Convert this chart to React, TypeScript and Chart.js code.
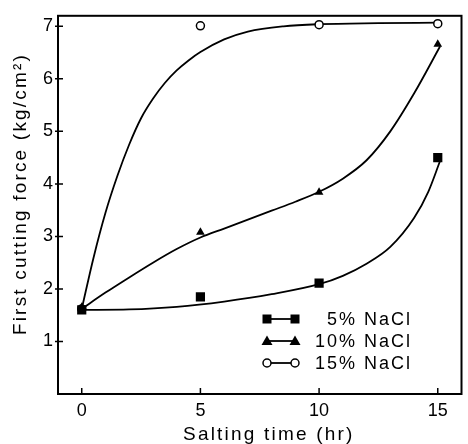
import React, { useEffect, useRef } from 'react';
import { Chart, registerables } from 'chart.js';

Chart.register(...registerables);

// Measured points
const timesHr = [0, 5, 10, 15];
const nacl5 = [1.6, 1.85, 2.11, 4.5];
const nacl10 = [1.65, 3.08, 3.84, 6.66];
const nacl15 = [1.62, 7.01, 7.03, 7.05];

// Fitted curves
const curve5X = [0, 2, 4, 6, 8, 10, 11, 12, 13, 14, 14.6, 15.1];
const curve5Y = [1.6, 1.61, 1.66, 1.76, 1.9, 2.09, 2.25, 2.48, 2.8, 3.35, 3.85, 4.44];
const curve10X = [0, 1, 2, 3, 4, 5, 6, 7, 8, 9, 10, 11, 12, 13, 14, 15.1];
const curve10Y = [1.62, 1.93, 2.22, 2.5, 2.76, 2.98, 3.15, 3.32, 3.49, 3.66, 3.85, 4.1, 4.45, 5.0, 5.72, 6.62];
const curve15X = [0, 0.5, 1, 1.5, 2, 2.5, 3, 3.5, 4, 4.5, 5, 6, 7, 8.5, 10, 12.5, 15];
const curve15Y = [1.62, 2.6, 3.45, 4.15, 4.75, 5.25, 5.62, 5.92, 6.16, 6.35, 6.51, 6.75, 6.9, 7.0, 7.04, 7.06, 7.07];

const seriesLabels = ['5% NaCl', '10% NaCl', '15% NaCl'];
const xTicks = [0, 5, 10, 15];
const yTicks = [1, 2, 3, 4, 5, 6, 7];
const xTitle = 'Salting time (hr)';
const yTitle = 'First cutting force (kg/cm²)';

const toXY = (xs: number[], ys: number[]) => xs.map((x, i) => ({ x, y: ys[i] }));

const FONT = '"Liberation Sans", Arial, sans-serif';

function drawMarker(ctx: CanvasRenderingContext2D, kind: number, x: number, y: number) {
  ctx.beginPath();
  if (kind === 0) {
    ctx.rect(x - 4.5, y - 4.5, 9, 9);
    ctx.fillStyle = '#000';
    ctx.fill();
  } else if (kind === 1) {
    ctx.moveTo(x, y - 5.5);
    ctx.lineTo(x + 5.5, y + 4);
    ctx.lineTo(x - 5.5, y + 4);
    ctx.closePath();
    ctx.fillStyle = '#000';
    ctx.fill();
  } else {
    ctx.arc(x, y, 4, 0, Math.PI * 2);
    ctx.fillStyle = '#fff';
    ctx.fill();
    ctx.lineWidth = 1.5;
    ctx.strokeStyle = '#000';
    ctx.stroke();
  }
}

const decorPlugin = {
  id: 'decor',
  afterDraw(chart: any) {
    const { ctx, chartArea: a, scales } = chart;
    ctx.save();
    ctx.strokeStyle = '#000';
    ctx.lineWidth = 2;
    ctx.strokeRect(a.left, a.top, a.right - a.left, a.bottom - a.top);

    ctx.lineWidth = 1.5;
    ctx.beginPath();
    xTicks.forEach((v) => {
      const px = scales.x.getPixelForValue(v);
      ctx.moveTo(px, a.bottom);
      ctx.lineTo(px, a.bottom - 6);
    });
    yTicks.forEach((v) => {
      const py = scales.y.getPixelForValue(v);
      ctx.moveTo(a.left - 3, py);
      ctx.lineTo(a.left + 5, py);
    });
    ctx.stroke();

    ctx.fillStyle = '#000';
    ctx.font = `19px ${FONT}`;
    (ctx as any).letterSpacing = '2.2px';
    ctx.textAlign = 'center';
    ctx.textBaseline = 'alphabetic';
    ctx.fillText(xTitle, (a.left + a.right) / 2 + 9, 440);

    ctx.save();
    ctx.translate(21, 194);
    ctx.rotate(-Math.PI / 2);
    ctx.textBaseline = 'middle';
    ctx.fillText(yTitle, 0, 0);
    ctx.restore();

    // legend
    const rows = [319, 341, 363];
    ctx.font = `18px ${FONT}`;
    (ctx as any).letterSpacing = '2px';
    ctx.textAlign = 'right';
    ctx.textBaseline = 'middle';
    seriesLabels.forEach((lab, i) => {
      const y = rows[i];
      ctx.beginPath();
      ctx.strokeStyle = '#000';
      ctx.lineWidth = 1.8;
      ctx.moveTo(266, y);
      ctx.lineTo(296, y);
      ctx.stroke();
      drawMarker(ctx, i, 267, y);
      drawMarker(ctx, i, 295, y);
      ctx.fillStyle = '#000';
      ctx.fillText(lab, 412, y + 1);
    });
    ctx.restore();
  },
};

export default function App() {
  const ref = useRef<HTMLCanvasElement>(null);
  useEffect(() => {
    if (!ref.current) return;
    const curveStyle = {
      showLine: true,
      pointRadius: 0,
      borderColor: '#000',
      borderWidth: 1.8,
      cubicInterpolationMode: 'monotone' as const,
      fill: false,
    };
    const chart = new Chart(ref.current, {
      type: 'scatter',
      data: {
        datasets: [
          {
            label: seriesLabels[0],
            data: toXY(timesHr, nacl5),
            pointStyle: 'rect',
            pointRadius: 6.5,
            backgroundColor: '#000',
            borderColor: '#000',
            borderWidth: 0,
          },
          {
            label: seriesLabels[1],
            data: toXY(timesHr, nacl10),
            pointStyle: 'triangle',
            pointRadius: 5,
            backgroundColor: '#000',
            borderColor: '#000',
            borderWidth: 0,
          },
          {
            label: seriesLabels[2],
            data: toXY(timesHr, nacl15),
            pointStyle: 'circle',
            pointRadius: 4,
            backgroundColor: '#fff',
            borderColor: '#000',
            borderWidth: 1.5,
          },
          { label: 'c5', data: toXY(curve5X, curve5Y), ...curveStyle },
          { label: 'c10', data: toXY(curve10X, curve10Y), ...curveStyle },
          { label: 'c15', data: toXY(curve15X, curve15Y), ...curveStyle },
        ] as any,
      },
      options: {
        animation: false,
        responsive: false,
        layout: { padding: { left: 0, right: 1, top: 9, bottom: 0 } },
        plugins: { legend: { display: false }, tooltip: { enabled: false } },
        scales: {
          x: {
            type: 'linear',
            min: -1,
            max: 16,
            afterBuildTicks: (s: any) => {
              s.ticks = xTicks.map((v) => ({ value: v }));
            },
            afterFit: (s: any) => {
              s.height = 50;
            },
            grid: { display: false, drawTicks: false },
            border: { display: false },
            ticks: {
              padding: 6,
              color: '#000',
              font: { family: FONT, size: 18 },
              maxRotation: 0,
            },
          },
          y: {
            type: 'linear',
            min: 0,
            max: 7.2,
            afterBuildTicks: (s: any) => {
              s.ticks = yTicks.map((v) => ({ value: v }));
            },
            afterFit: (s: any) => {
              s.width = 58;
            },
            grid: { display: false, drawTicks: false },
            border: { display: false },
            ticks: {
              padding: 5,
              color: '#000',
              font: { family: FONT, size: 18 },
            },
          },
        },
      },
      plugins: [decorPlugin],
    });
    return () => chart.destroy();
  }, []);
  return (
    <div style={{ position: 'absolute', left: 0, top: 0, width: 468, height: 444, background: '#fff' }}>
      <canvas ref={ref} width={468} height={444} style={{ display: 'block' }} />
    </div>
  );
}
